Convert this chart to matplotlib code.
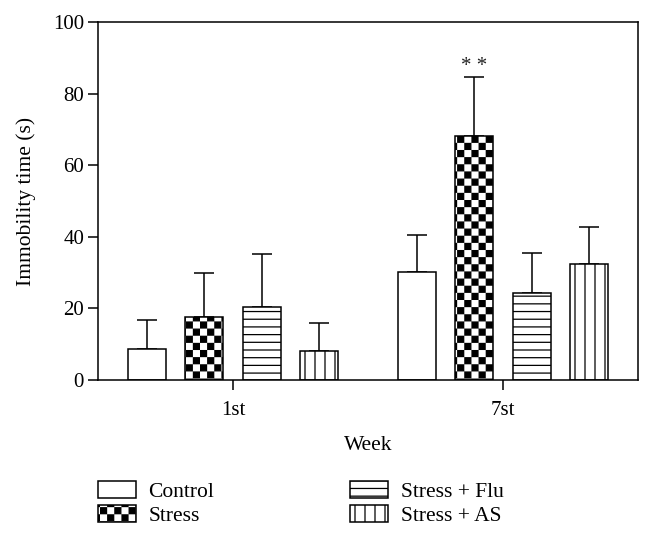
import numpy as np
import matplotlib
matplotlib.use('Agg')
import matplotlib.pyplot as plt
from matplotlib import hatch as mhatch
from matplotlib.path import Path

weeks = ['1st', '7st']
labels = ['Control', 'Stress', 'Stress + Flu', 'Stress + AS']
control = [8.7, 30.1]
stress = [17.7, 68.2]
stress_flu = [20.3, 24.4]
stress_as = [8.1, 32.5]
control_sd = [8.1, 10.4]
stress_sd = [12.1, 16.5]
stress_flu_sd = [14.8, 11.2]
stress_as_sd = [7.9, 10.3]


# custom hatches: denser lines and a checkerboard ('*')
class HLines(mhatch.HorizontalHatch):
    def __init__(self, hatch, density):
        self.num_lines = 13 * hatch.count('-')
        self.num_vertices = self.num_lines * 2


class VLines(mhatch.VerticalHatch):
    def __init__(self, hatch, density):
        self.num_lines = 10 * hatch.count('|')
        self.num_vertices = self.num_lines * 2


class Checker(mhatch.HatchPatternBase):
    def __init__(self, hatch, density):
        self.n = 14 if '*' in hatch else 0
        self.num_vertices = (self.n * self.n // 2) * 5

    def set_vertices_and_codes(self, vertices, codes):
        s = 1.0 / self.n
        d = 0.006  # inset so the stroke does not swell the squares
        k = 0
        for i in range(self.n):
            for j in range(self.n):
                if (i + j) % 2:
                    continue
                x0, y0 = i * s + d, j * s + d
                x1, y1 = (i + 1) * s - d, (j + 1) * s - d
                vertices[k:k + 5] = [(x0, y0), (x1, y0), (x1, y1), (x0, y1), (x0, y0)]
                codes[k:k + 5] = [Path.MOVETO, Path.LINETO, Path.LINETO,
                                  Path.LINETO, Path.CLOSEPOLY]
                k += 5


mhatch._hatch_types = [HLines, VLines, Checker]

plt.rcParams['font.family'] = ['Liberation Serif', 'DejaVu Serif']
plt.rcParams['hatch.linewidth'] = 0.9
plt.rcParams['hatch.color'] = 'black'

fig = plt.figure(figsize=(6.53, 5.42), dpi=100)
ax = fig.add_axes([0.150, 0.299, 0.827, 0.660])

x = np.arange(len(weeks))
width = 0.14
step = 0.213
series = [control, stress, stress_flu, stress_as]
sds = [control_sd, stress_sd, stress_flu_sd, stress_as_sd]
hatches = ['', '*', '-', '|']
handles = []
for i in range(4):
    xs = x + (i - 1.5) * step
    b = ax.bar(xs, series[i], width, color='white', edgecolor='black',
               linewidth=1.1, hatch=hatches[i], label=labels[i], zorder=2)
    handles.append(b)
    ax.errorbar(xs, series[i], yerr=[np.zeros(2), sds[i]], fmt='none',
                ecolor='black', elinewidth=1.1, capsize=7, capthick=1.1, zorder=1)

ax.text(x[1] - 0.5 * step, stress[1] + stress_sd[1] + 0.3, '* *',
        ha='center', va='bottom', fontsize=15, color='#222222')

ax.set_xlim(-0.5, 1.5)
ax.set_ylim(0, 100)
ax.set_yticks(np.arange(0, 101, 20))
ax.set_xticks(x)
ax.set_xticklabels(weeks)
ax.tick_params(axis='both', labelsize=15, length=7, width=1.1, direction='out')
ax.tick_params(axis='y', pad=3)
ax.tick_params(axis='x', pad=8)
for s in ax.spines.values():
    s.set_linewidth(1.1)
ax.set_xlabel('Week', fontsize=15.5, labelpad=12)
ax.set_ylabel('Immobility time (s)', fontsize=15.5, labelpad=12)

fig.legend(handles=handles, labels=labels, ncol=2, loc='upper left',
           bbox_to_anchor=(0.150, 1 - 481 / 542), frameon=False,
           fontsize=15.5, handlelength=1.75, handleheight=0.85,
           handletextpad=0.6, labelspacing=0.12, columnspacing=6.3,
           borderpad=0, borderaxespad=0)

fig.savefig('out.png', dpi=100)
